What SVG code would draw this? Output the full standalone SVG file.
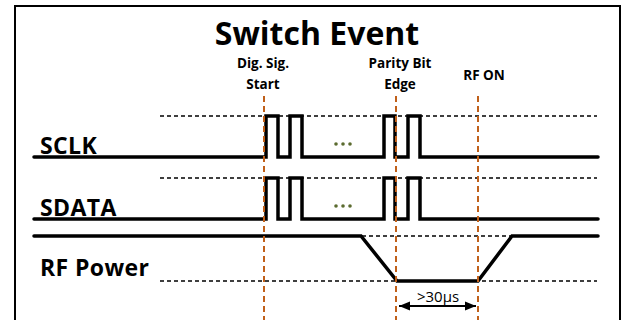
<svg xmlns="http://www.w3.org/2000/svg" width="623" height="320" viewBox="0 0 623 320">
<style>
.sig{fill:none;stroke:#000;stroke-width:3.5;stroke-linecap:round;stroke-linejoin:miter}
.dot{fill:none;stroke:#000;stroke-width:1.5;stroke-dasharray:4 3}
.mark{fill:none;stroke:#c0601a;stroke-width:2;stroke-dasharray:6 4}
.lbl{font-family:"Open Sans","Liberation Sans",sans-serif;font-weight:bold;fill:#000}
.big{font-size:23px;letter-spacing:0.4px}
.sm{font-size:13.5px}
.ell{fill:#5b6b2f}
</style>
<defs>
<marker id="ah" viewBox="0 0 10 10" refX="10" refY="5" markerWidth="11" markerHeight="11" orient="auto-start-reverse" markerUnits="userSpaceOnUse">
<path d="M0,1 L10,5 L0,9 Z" fill="#000"/>
</marker>
</defs>
<rect x="15" y="6" width="605" height="330" fill="#fff" stroke="#000" stroke-width="2"/>
<g id="title"><text class="lbl" x="317" y="45" font-size="32" text-anchor="middle">Switch Event</text></g>
<g id="labels">
<text class="lbl sm" x="263" y="68" text-anchor="middle">Dig. Sig.</text>
<text class="lbl sm" x="263" y="89" text-anchor="middle">Start</text>
<text class="lbl sm" x="400" y="68" text-anchor="middle">Parity Bit</text>
<text class="lbl sm" x="400" y="89" text-anchor="middle">Edge</text>
<text class="lbl sm" x="484" y="80" text-anchor="middle">RF ON</text>
</g>
<g id="sclk">
<text class="lbl big" x="40" y="154">SCLK</text>
<line class="dot" x1="160" y1="116" x2="597" y2="116"/>
<path class="sig" d="M34,157 H266 V116 H278 V157 H290 V116 H302 V157 H384 V116 H395 V157 H408 V116 H420 V157 H598"/>
<circle class="ell" cx="336" cy="144" r="1.8"/><circle class="ell" cx="343" cy="144" r="1.8"/><circle class="ell" cx="350" cy="144" r="1.8"/>
</g>
<g id="sdata">
<text class="lbl big" x="40" y="216">SDATA</text>
<line class="dot" x1="160" y1="178" x2="597" y2="178"/>
<path class="sig" d="M34,219 H266 V178 H278 V219 H290 V178 H302 V219 H384 V178 H395 V219 H408 V178 H420 V219 H598"/>
<circle class="ell" cx="336" cy="206" r="1.8"/><circle class="ell" cx="343" cy="206" r="1.8"/><circle class="ell" cx="350" cy="206" r="1.8"/>
</g>
<g id="rfpower">
<text class="lbl big" x="40" y="276">RF Power</text>
<line class="dot" x1="362" y1="236" x2="512" y2="236"/>
<line class="dot" x1="160" y1="281" x2="597" y2="281"/>
<path class="sig" d="M34,236 H361 L397,281 H478 L512,236 H598"/>
</g>
<g id="connectors">
<line class="mark" x1="264" y1="96" x2="264" y2="320"/>
<line class="mark" x1="396" y1="96" x2="396" y2="320"/>
<line class="mark" x1="478" y1="96" x2="478" y2="320"/>
<line x1="399" y1="306" x2="476" y2="306" stroke="#000" stroke-width="1.8" marker-start="url(#ah)" marker-end="url(#ah)"/>
<text x="438" y="302" font-family="'Open Sans','Liberation Sans',sans-serif" font-size="15" text-anchor="middle" fill="#000">&gt;30µs</text>
</g>
</svg>
